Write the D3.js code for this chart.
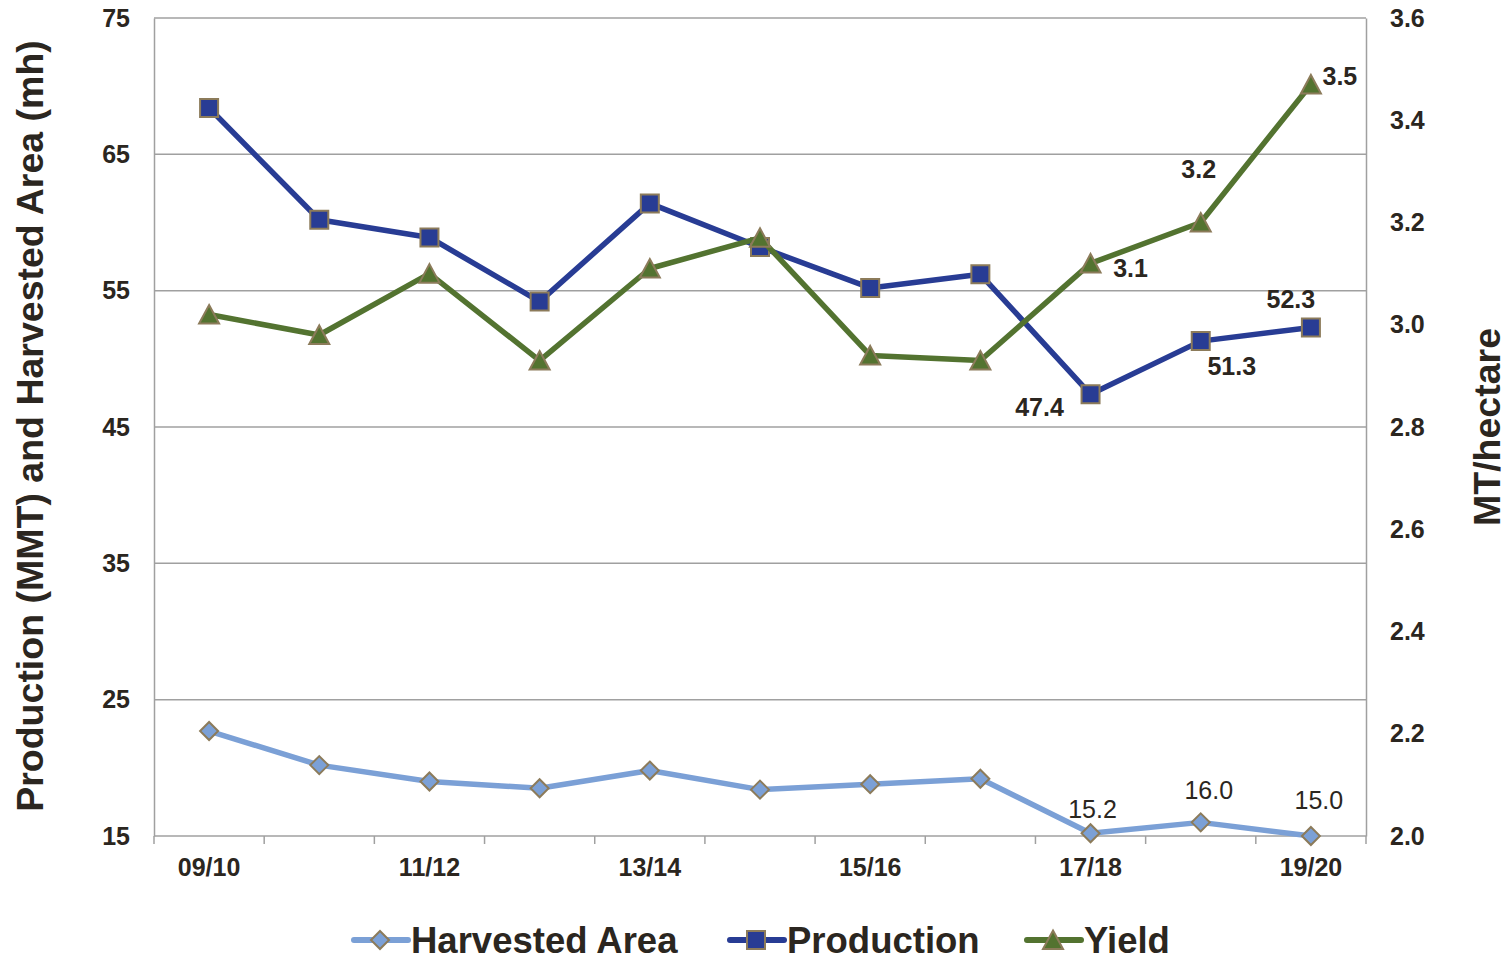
<!DOCTYPE html>
<html>
<head>
<meta charset="utf-8">
<script src="https://cdn.jsdelivr.net/npm/d3@7"></script>
<style>
  body { margin: 0; background: white; }
  svg { font-family: "Liberation Sans", Arial, sans-serif; }
</style>
</head>
<body>
<div id="chart"></div>
<script>
const width = 1510;
const height = 961;
const margin = { top: 18, right: 144, bottom: 125, left: 154 };

const years = ["09/10", "10/11", "11/12", "12/13", "13/14", "14/15", "15/16", "16/17", "17/18", "18/19", "19/20"];
const yearLabels = ["09/10", "11/12", "13/14", "15/16", "17/18", "19/20"];
const production = [68.4, 60.2, 58.9, 54.2, 61.4, 58.2, 55.2, 56.2, 47.4, 51.3, 52.3];
const harvestedArea = [22.7, 20.2, 19.0, 18.5, 19.8, 18.4, 18.8, 19.2, 15.2, 16.0, 15.0];
const yieldValues = [3.02, 2.98, 3.10, 2.93, 3.11, 3.17, 2.94, 2.93, 3.12, 3.20, 3.47];
const leftTicks = [15, 25, 35, 45, 55, 65, 75];
const rightTicks = [2.0, 2.2, 2.4, 2.6, 2.8, 3.0, 3.2, 3.4, 3.6];

// labels shown on the last few points: [index, text, dx, dy]
const productionLabels = [[8, "47.4", -51, 15], [9, "51.3", 31, 27], [10, "52.3", -20, -26]];
const yieldLabels = [[8, "3.1", 40, 7], [9, "3.2", -2, -51], [10, "3.5", 29, -6]];
const areaLabels = [[8, "15.2", 2, -22], [9, "16.0", 8, -30], [10, "15.0", 8, -34]];

const textColor = "#2b2620";
const markerStroke = "#8c7b5a";

const series = [
  { title: "Harvested Area", color: "#7ba0d6", fill: "#7ba0d6", values: harvestedArea, axis: "left", symbol: "diamond" },
  { title: "Production", color: "#283c94", fill: "#283c94", values: production, axis: "left", symbol: "square" },
  { title: "Yield", color: "#537330", fill: "#537330", values: yieldValues, axis: "right", symbol: "triangle" }
];

const x = d3.scaleBand(years, [margin.left, width - margin.right]);
const xc = d => x(d) + x.bandwidth() / 2;
const yLeft = d3.scaleLinear([15, 75], [height - margin.bottom, margin.top]);
const yRight = d3.scaleLinear([2.0, 3.6], [height - margin.bottom, margin.top]);

const svg = d3.select("#chart").append("svg")
  .attr("width", width)
  .attr("height", height);

const symbolPath = (name) => {
  if (name === "diamond") return "M0,-9L9,0L0,9L-9,0Z";
  if (name === "square") return "M-9,-9H9V9H-9Z";
  return "M0,-9.5L10,9H-10Z";
};

// grid
svg.append("g")
  .selectAll("line")
  .data(leftTicks.slice(1))
  .join("line")
  .attr("x1", margin.left).attr("x2", width - margin.right)
  .attr("y1", d => yLeft(d)).attr("y2", d => yLeft(d))
  .attr("stroke", "#a0a0a0")
  .attr("stroke-width", 1.5);

// left axis
const leftAxis = svg.append("g")
  .attr("transform", `translate(${margin.left},0)`)
  .call(d3.axisLeft(yLeft).tickValues(leftTicks).tickSize(0).tickPadding(24));
leftAxis.select(".domain").attr("stroke", "#a0a0a0").attr("stroke-width", 1.5);
leftAxis.selectAll("text")
  .attr("font-size", 25).attr("font-weight", "bold").attr("fill", textColor);

// right axis
const rightAxis = svg.append("g")
  .attr("transform", `translate(${width - margin.right},0)`)
  .call(d3.axisRight(yRight).tickValues(rightTicks).tickFormat(d3.format(".1f")).tickSize(0).tickPadding(24));
rightAxis.select(".domain").attr("stroke", "#a0a0a0").attr("stroke-width", 1.5);
rightAxis.selectAll("text")
  .attr("font-size", 25).attr("font-weight", "bold").attr("fill", textColor);

// bottom axis
const bottom = svg.append("g")
  .attr("transform", `translate(0,${height - margin.bottom})`);
bottom.append("line")
  .attr("x1", margin.left).attr("x2", width - margin.right)
  .attr("stroke", "#a0a0a0").attr("stroke-width", 1.5);
bottom.selectAll(".tick-mark")
  .data(years.concat([null]))
  .join("line")
  .attr("class", "tick-mark")
  .attr("x1", (d, i) => margin.left + i * x.bandwidth())
  .attr("x2", (d, i) => margin.left + i * x.bandwidth())
  .attr("y1", 0).attr("y2", 8)
  .attr("stroke", "#a0a0a0").attr("stroke-width", 1.5);
bottom.selectAll(".tick-label")
  .data(yearLabels)
  .join("text")
  .attr("class", "tick-label")
  .attr("x", d => xc(d))
  .attr("y", 40)
  .attr("text-anchor", "middle")
  .attr("font-size", 25).attr("font-weight", "bold").attr("fill", textColor)
  .text(d => d);

// axis titles
svg.append("text")
  .attr("transform", `translate(43,${(margin.top + height - margin.bottom) / 2 - 1}) rotate(-90)`)
  .attr("text-anchor", "middle")
  .attr("font-size", 37.5).attr("font-weight", "bold").attr("fill", textColor)
  .text("Production (MMT) and Harvested Area (mh)");
svg.append("text")
  .attr("transform", `translate(1500,${(margin.top + height - margin.bottom) / 2}) rotate(-90)`)
  .attr("text-anchor", "middle")
  .attr("font-size", 37.5).attr("font-weight", "bold").attr("fill", textColor)
  .text("MT/hectare");

// lines and markers
const scaleFor = s => s.axis === "left" ? yLeft : yRight;
const line = s => d3.line()
  .x((v, i) => xc(years[i]))
  .y(v => scaleFor(s)(v));

const seriesG = svg.selectAll(".series")
  .data(series)
  .join("g")
  .attr("class", "series");
seriesG.append("path")
  .attr("fill", "none")
  .attr("stroke", d => d.color)
  .attr("stroke-width", 5.5)
  .attr("stroke-linejoin", "round")
  .attr("d", d => line(d)(d.values));
seriesG.selectAll(".marker")
  .data(s => s.values.map((v, i) => ({ s, v, i })))
  .join("path")
  .attr("class", "marker")
  .attr("transform", d => `translate(${xc(years[d.i])},${scaleFor(d.s)(d.v)})`)
  .attr("d", d => symbolPath(d.s.symbol))
  .attr("fill", d => d.s.fill)
  .attr("stroke", markerStroke)
  .attr("stroke-width", 2);

// data labels
const addLabels = (labels, values, scale, weight, size) => {
  svg.append("g")
    .selectAll("text")
    .data(labels)
    .join("text")
    .attr("x", d => xc(years[d[0]]) + d[2])
    .attr("y", d => scale(values[d[0]]) + d[3])
    .attr("text-anchor", "middle")
    .attr("dominant-baseline", "middle")
    .attr("font-size", size).attr("font-weight", weight).attr("fill", textColor)
    .text(d => d[1]);
};
addLabels(productionLabels, production, yLeft, "bold", 25);
addLabels(yieldLabels, yieldValues, yRight, "bold", 25);
addLabels(areaLabels, harvestedArea, yLeft, "normal", 25);

// legend
const legendX = [352, 728, 1025];
const legend = svg.append("g")
  .selectAll("g")
  .data(series)
  .join("g")
  .attr("transform", (d, i) => `translate(${legendX[i]},940)`);
legend.append("line")
  .attr("x1", 2).attr("x2", 56)
  .attr("stroke", d => d.color)
  .attr("stroke-width", 6)
  .attr("stroke-linecap", "round");
legend.append("path")
  .attr("transform", "translate(28,0)")
  .attr("d", d => symbolPath(d.symbol))
  .attr("fill", d => d.fill)
  .attr("stroke", markerStroke)
  .attr("stroke-width", 2);
legend.append("text")
  .attr("x", 59)
  .attr("dy", "0.36em")
  .attr("font-size", 36.5).attr("font-weight", "bold").attr("fill", textColor)
  .text(d => d.title);
</script>
</body>
</html>
